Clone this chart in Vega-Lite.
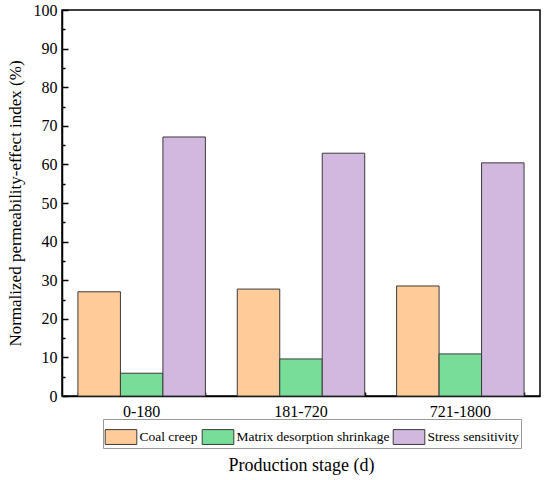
{
  "$schema": "https://vega.github.io/schema/vega-lite/v6.json",
  "width": 478,
  "height": 386,
  "autosize": {"type": "none"},
  "padding": {"left": 62, "top": 10, "right": 10, "bottom": 84},
  "background": "white",
  "config": {
    "view": {"stroke": "black", "strokeWidth": 1.5},
    "font": "Liberation Serif"
  },
  "data": {
    "values": [
      {"stage": "0-180", "factor": "Coal creep", "index": 27.0},
      {"stage": "0-180", "factor": "Matrix desorption shrinkage", "index": 5.9},
      {"stage": "0-180", "factor": "Stress sensitivity", "index": 67.1},
      {"stage": "181-720", "factor": "Coal creep", "index": 27.7},
      {"stage": "181-720", "factor": "Matrix desorption shrinkage", "index": 9.6},
      {"stage": "181-720", "factor": "Stress sensitivity", "index": 62.9},
      {"stage": "721-1800", "factor": "Coal creep", "index": 28.5},
      {"stage": "721-1800", "factor": "Matrix desorption shrinkage", "index": 10.9},
      {"stage": "721-1800", "factor": "Stress sensitivity", "index": 60.4}
    ]
  },
  "resolve": {"axis": {"x": "independent"}},
  "layer": [
    {
      "mark": {"type": "bar", "stroke": "#3a3a3a", "strokeWidth": 1},
      "encoding": {
        "x": {
          "field": "stage",
          "type": "nominal",
          "sort": null,
          "scale": {"paddingInner": 0.2, "paddingOuter": 0.1},
          "axis": {
            "orient": "bottom",
            "title": "Production stage (d)",
            "titleFont": "Liberation Serif",
            "titleFontSize": 18,
            "titleFontWeight": "normal",
            "titleColor": "black",
            "titlePadding": 37,
            "labelAngle": 0,
            "labelFont": "Liberation Serif",
            "labelFontSize": 16,
            "labelColor": "black",
            "labelPadding": 14,
            "domainColor": "black",
            "domainWidth": 1.5,
            "tickColor": "black",
            "tickWidth": 1.5,
            "tickSize": -7
          }
        },
        "xOffset": {"field": "factor", "type": "nominal", "sort": null},
        "y": {
          "field": "index",
          "type": "quantitative",
          "scale": {"domain": [0, 100], "nice": false},
          "axis": {
            "title": "Normalized permeability-effect index (%)",
            "titleFont": "Liberation Serif",
            "titleFontSize": 17,
            "titleFontWeight": "normal",
            "titleColor": "black",
            "titlePadding": 9,
            "values": [0, 5, 10, 15, 20, 25, 30, 35, 40, 45, 50, 55, 60, 65, 70, 75, 80, 85, 90, 95, 100],
            "labelExpr": "datum.value % 10 === 0 ? datum.label : ''",
            "labelFont": "Liberation Serif",
            "labelFontSize": 16,
            "labelColor": "black",
            "labelPadding": 11,
            "grid": false,
            "domainColor": "black",
            "domainWidth": 1.5,
            "tickColor": "black",
            "tickWidth": 1.5,
            "tickSize": {"condition": {"test": "datum.value % 10 === 0", "value": -6}, "value": -3}
          }
        },
        "color": {
          "field": "factor",
          "type": "nominal",
          "sort": null,
          "scale": {
            "domain": ["Coal creep", "Matrix desorption shrinkage", "Stress sensitivity"],
            "range": ["#FFCC99", "#77DD99", "#D2B8DE"]
          },
          "legend": {
            "title": null,
            "orient": "none",
            "legendX": 41,
            "legendY": 409,
            "direction": "horizontal",
            "columns": 3,
            "symbolType": "M-1,-0.47H1V0.47H-1Z",
            "symbolSize": 1000,
            "symbolStrokeColor": "#3a3a3a",
            "symbolStrokeWidth": 1,
            "symbolOpacity": 1,
            "labelFont": "Liberation Serif",
            "labelFontSize": 13.5,
            "labelLimit": 300,
            "labelColor": "black",
            "labelOffset": 2,
            "columnPadding": 1,
            "padding": 1.5,
            "strokeColor": "#999999",
            "fillColor": "white"
          }
        }
      }
    },
    {
      "mark": {"type": "tick", "opacity": 0},
      "encoding": {
        "x": {
          "field": "stage",
          "type": "nominal",
          "sort": null,
          "axis": {
            "orient": "bottom",
            "title": null,
            "labels": false,
            "domain": false,
            "tickBand": "extent",
            "tickColor": "black",
            "tickWidth": 1.5,
            "tickSize": -4
          }
        }
      }
    }
  ]
}
